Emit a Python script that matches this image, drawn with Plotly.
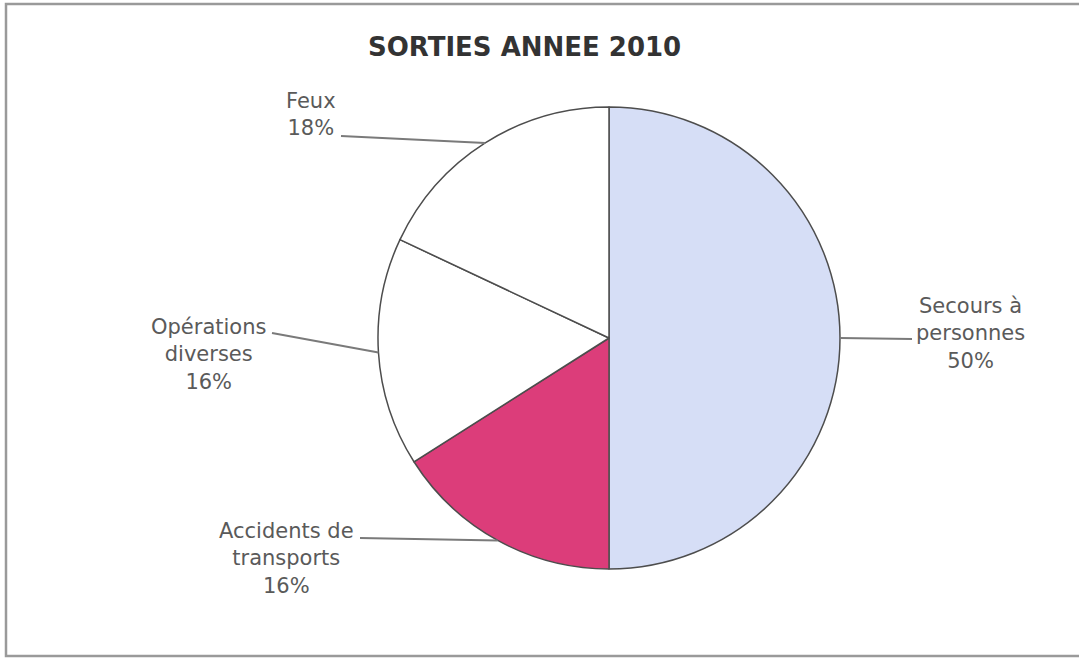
import math
import plotly.graph_objects as go

# Data
categories = ["Secours à<br>personnes", "Accidents de<br>transports", "Opérations<br>diverses", "Feux"]
values = [50, 16, 16, 18]
colors = ["#d6def6", "#dc3d7a", "#ffffff", "#ffffff"]

W, H = 1079, 659

# pie placement in pixels
cx, cy, R = 609, 338, 231

# label block centres and where each leader line starts (pixels)
label_pos = [(970, 333), (286, 558), (208, 354), (311, 114)]
line_start = [(912, 339), (360, 538), (272, 333), (341, 136)]


def px(x):
    return x / W


def py(y):
    return 1 - y / H


fig = go.Figure(go.Pie(
    labels=categories,
    values=values,
    sort=False,
    direction="clockwise",
    rotation=0,
    marker=dict(colors=colors, line=dict(color="#4d4d4d", width=1.5)),
    textinfo="none",
    hoverinfo="label+percent",
    showlegend=False,
    domain=dict(x=[px(cx - R), px(cx + R)], y=[py(cy + R), py(cy - R)]),
))

shapes = []
annotations = []
total = sum(values)
cum = 0
for lab, v, (lx, ly), (sx, sy) in zip(categories, values, label_pos, line_start):
    mid = (cum + v / 2) / total * 2 * math.pi
    cum += v
    ex = cx + R * math.sin(mid)
    ey = cy - R * math.cos(mid)
    shapes.append(dict(type="line", xref="paper", yref="paper",
                       x0=px(sx), y0=py(sy), x1=px(ex), y1=py(ey),
                       line=dict(color="#7a7a7a", width=2)))
    pct = round(100 * v / total)
    annotations.append(dict(
        text=f"{lab}<br>{pct}%", xref="paper", yref="paper",
        x=px(lx), y=py(ly), xanchor="center", yanchor="middle",
        align="center", showarrow=False,
        font=dict(family="DejaVu Sans", size=21, color="#5a5a5a"),
    ))

annotations.append(dict(
    text="<b>SORTIES ANNEE 2010</b>", xref="paper", yref="paper",
    x=px(524), y=py(47), xanchor="center", yanchor="middle",
    showarrow=False, font=dict(family="DejaVu Sans", size=26, color="#333333"),
))

# outer frame
shapes.append(dict(type="rect", xref="paper", yref="paper",
                   x0=px(6), y0=py(656), x1=px(1090), y1=py(4),
                   line=dict(color="#9a9a9a", width=2.5)))

fig.update_layout(
    width=W, height=H,
    margin=dict(l=0, r=0, t=0, b=0),
    paper_bgcolor="#ffffff",
    plot_bgcolor="#ffffff",
    shapes=shapes,
    annotations=annotations,
)

fig.write_html("out.html")
